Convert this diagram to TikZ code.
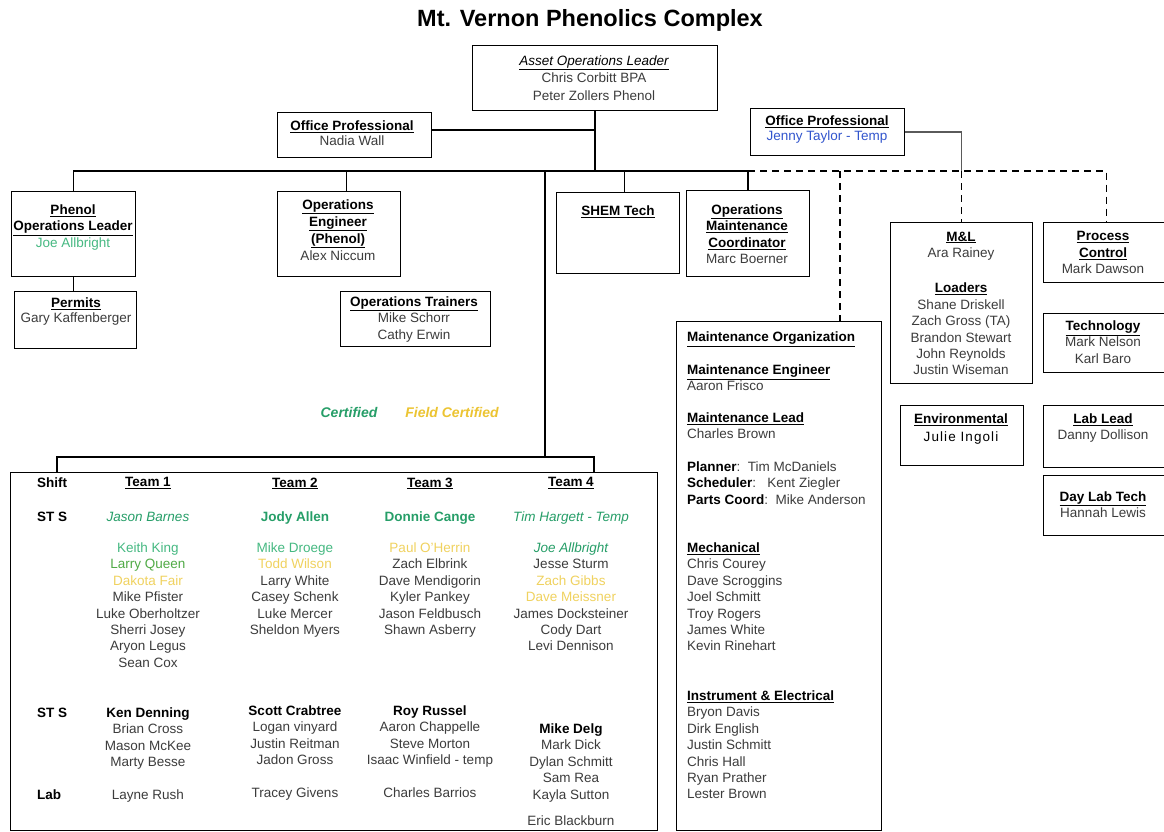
\documentclass[tikz,border=0pt]{standalone}
\usepackage{fontspec}
\setmainfont{Liberation Sans}
\usepackage{tikz}

\definecolor{namegray}{RGB}{60,60,60}
\definecolor{certgreen}{RGB}{38,158,104}
\definecolor{leafgreen}{RGB}{80,170,70}
\definecolor{mintgreen}{RGB}{70,185,130}
\definecolor{fieldyellow}{RGB}{236,196,50}
\definecolor{paleyellow}{RGB}{240,210,95}
\definecolor{tempblue}{RGB}{50,85,205}
\definecolor{linkgray}{RGB}{90,90,90}

\newcommand\nm{\fontsize{13.5}{16.4}\selectfont}
\newcommand\hd[1]{{\bfseries\color{black}\underline{#1}}}

\tikzset{
  orgbox/.style={draw=black, line width=1pt, inner sep=0pt, anchor=north west},
  boxtxt/.style={inner sep=0pt, anchor=north, align=center, font=\nm, text=namegray},
  lefttxt/.style={inner sep=0pt, anchor=north west, align=left, font=\nm, text=namegray},
  link/.style={line width=1.1pt, black},
  dlink/.style={line width=1.1pt, black, dash pattern=on 7pt off 5pt},
  glink/.style={line width=1.1pt, linkgray}
}

\begin{document}
\begin{tikzpicture}[x=1pt, y=-1pt]
	%%%%% START %%%%%
	\useasboundingbox[fill=white] (0,0) rectangle (1164,831);
	
	\node[font=\bfseries\fontsize{23.5}{28}\selectfont, inner sep=0pt] (title) at (590,20) {Mt. Vernon Phenolics Complex};
	
	% top of the chart
	\node[orgbox, minimum width=245, minimum height=65] (asset) at (472,45) {};
	\node[boxtxt] (assettxt) at (594,55.5) {{\itshape\color{black}\underline{Asset Operations Leader}}\\[1pt]Chris Corbitt BPA\\[1pt]Peter Zollers Phenol};
	
	\node[orgbox, minimum width=154, minimum height=45] (nadia) at (277,112) {};
	\node[boxtxt] (nadiatxt) at (352,120.5) {\hd{Office Professional}\\[-1pt]Nadia Wall};
	
	\node[orgbox, minimum width=154, minimum height=47] (jenny) at (750,108) {};
	\node[boxtxt] (jennytxt) at (827,115.5) {\hd{Office Professional}\\[-1pt]{\color{tempblue}Jenny Taylor - Temp}};
	
	% second row
	\node[orgbox, minimum width=124, minimum height=85] (phenol) at (11,191) {};
	\node[boxtxt] (phenoltxt) at (73,204.5) {\hd{Phenol}\\\hd{Operations Leader}\\{\color{mintgreen}Joe Allbright}};
	
	\node[orgbox, minimum width=122, minimum height=57] (permits) at (14,291) {};
	\node[boxtxt] (permitstxt) at (76,297.5) {\hd{Permits}\\[-1pt]Gary Kaffenberger};
	
	\node[orgbox, minimum width=123, minimum height=85] (opseng) at (277,191) {};
	\node[boxtxt] (opsengtxt) at (338,199.5) {\hd{Operations}\\[0.5pt]\hd{Engineer}\\[0.5pt]\hd{(Phenol)}\\[0.5pt]Alex Niccum};
	
	\node[orgbox, minimum width=150, minimum height=55] (trainers) at (340,291) {};
	\node[boxtxt] (trainerstxt) at (414,296.5) {\hd{Operations Trainers}\\Mike Schorr\\Cathy Erwin};
	
	\node[orgbox, minimum width=123, minimum height=81] (shem) at (556,192) {};
	\node[boxtxt] (shemtxt) at (618,205.5) {\hd{SHEM Tech}};
	
	\node[orgbox, minimum width=123, minimum height=86] (omc) at (686,190) {};
	\node[boxtxt] (omctxt) at (747,204.5) {\hd{Operations}\\\hd{Maintenance}\\\hd{Coordinator}\\Marc Boerner};
	
	% maintenance column
	\node[orgbox, minimum width=205, minimum height=509] (maint) at (676,321) {};
	\node[lefttxt] (maintorg) at (687,331.5) {\hd{Maintenance Organization}};
	\node[lefttxt] (mengr) at (687,364.5) {\hd{Maintenance Engineer}\\Aaron Frisco};
	\node[lefttxt] (mlead) at (687,412.5) {\hd{Maintenance Lead}\\Charles Brown};
	\node[lefttxt] (mplan) at (687,461.5) {{\bfseries\color{black}Planner}:\ \ Tim McDaniels\\{\bfseries\color{black}Scheduler}:\ \ \ Kent Ziegler\\{\bfseries\color{black}Parts Coord}:\ \ Mike Anderson};
	\node[lefttxt] (mmech) at (687,542.5) {\hd{Mechanical}\\Chris Courey\\Dave Scroggins\\Joel Schmitt\\Troy Rogers\\James White\\Kevin Rinehart};
	\node[lefttxt] (mie) at (687,690.5) {\hd{Instrument \& Electrical}\\Bryon Davis\\Dirk English\\Justin Schmitt\\Chris Hall\\Ryan Prather\\Lester Brown};
	
	% right hand boxes
	\node[orgbox, minimum width=142, minimum height=161] (ml) at (890,222) {};
	\node[boxtxt] (mltxt) at (961,231.5) {\hd{M\&L}\\Ara Rainey\\[19pt]\hd{Loaders}\\Shane Driskell\\Zach Gross (TA)\\Brandon Stewart\\John Reynolds\\Justin Wiseman};
	
	\node[orgbox, minimum width=126, minimum height=60] (pc) at (1043,222) {};
	\node[boxtxt] (pctxt) at (1103,231.5) {\hd{Process}\\\hd{Control}\\Mark Dawson};
	
	\node[orgbox, minimum width=126, minimum height=59] (tech) at (1043,313) {};
	\node[boxtxt] (techtxt) at (1103,320.5) {\hd{Technology}\\Mark Nelson\\Karl Baro};
	
	\node[orgbox, minimum width=123, minimum height=60] (env) at (900,405) {};
	\node[boxtxt] (envtxt) at (961,413.5) {\hd{Environmental}\\[1.5pt]{\color{black}\addfontfeature{LetterSpace=8}Julie Ingoli}};
	
	\node[orgbox, minimum width=126, minimum height=62] (lablead) at (1043,405) {};
	\node[boxtxt] (lableadtxt) at (1103,413.5) {\hd{Lab Lead}\\Danny Dollison};
	
	\node[orgbox, minimum width=126, minimum height=60] (daylab) at (1043,475) {};
	\node[boxtxt] (daylabtxt) at (1103,491.5) {\hd{Day Lab Tech}\\Hannah Lewis};
	
	% legend
	\node[boxtxt, font=\bfseries\itshape\fontsize{14}{16}\selectfont, text=certgreen] (certified) at (349,407) {Certified};
	\node[boxtxt, font=\bfseries\itshape\fontsize{14}{16}\selectfont, text=fieldyellow] (fieldcert) at (452,407) {Field Certified};
	
	% shift teams
	\node[orgbox, minimum width=647, minimum height=358] (teams) at (10,472) {};
	\node[lefttxt, font=\nm\bfseries, text=black] (shift) at (37,477.5) {Shift};
	\node[lefttxt, font=\nm\bfseries, text=black] (stsa) at (37,511.5) {ST S};
	\node[lefttxt, font=\nm\bfseries, text=black] (stsb) at (37,707.5) {ST S};
	\node[lefttxt, font=\nm\bfseries, text=black] (lab) at (37,789.5) {Lab};
	
	\node[boxtxt] (team1) at (148,477.5) {\hd{Team 1}};
	\node[boxtxt] (team2) at (295,477.5) {\hd{Team 2}};
	\node[boxtxt] (team3) at (430,477.5) {\hd{Team 3}};
	\node[boxtxt] (team4) at (571,477.5) {\hd{Team 4}};
	
	\node[boxtxt, font=\nm\itshape, text=certgreen] (t1sts) at (148,511.5) {Jason Barnes};
	\node[boxtxt, font=\nm\bfseries, text=certgreen] (t2sts) at (295,511.5) {Jody Allen};
	\node[boxtxt, font=\nm\bfseries, text=certgreen] (t3sts) at (430,511.5) {Donnie Cange};
	\node[boxtxt, font=\nm\itshape, text=certgreen] (t4sts) at (571,511.5) {Tim Hargett - Temp};
	
	\node[boxtxt] (t1crew) at (148,542.5) {{\color{mintgreen}Keith King}\\{\color{leafgreen}Larry Queen}\\{\color{paleyellow}Dakota Fair}\\Mike Pfister\\Luke Oberholtzer\\Sherri Josey\\Aryon Legus\\Sean Cox};
	\node[boxtxt] (t2crew) at (295,542.5) {{\color{mintgreen}Mike Droege}\\{\color{paleyellow}Todd Wilson}\\Larry White\\Casey Schenk\\Luke Mercer\\Sheldon Myers};
	\node[boxtxt] (t3crew) at (430,542.5) {{\color{paleyellow}Paul O'Herrin}\\Zach Elbrink\\Dave Mendigorin\\Kyler Pankey\\Jason Feldbusch\\Shawn Asberry};
	\node[boxtxt] (t4crew) at (571,542.5) {{\itshape\color{certgreen}Joe Allbright}\\Jesse Sturm\\{\color{paleyellow}Zach Gibbs}\\{\color{paleyellow}Dave Meissner}\\James Docksteiner\\Cody Dart\\Levi Dennison};
	
	\node[boxtxt] (t1back) at (148,707.5) {{\bfseries\color{black}Ken Denning}\\Brian Cross\\Mason McKee\\Marty Besse};
	\node[boxtxt] (t2back) at (295,705.5) {{\bfseries\color{black}Scott Crabtree}\\Logan vinyard\\Justin Reitman\\Jadon Gross};
	\node[boxtxt] (t3back) at (430,705.5) {{\bfseries\color{black}Roy Russel}\\Aaron Chappelle\\Steve Morton\\Isaac Winfield - temp};
	\node[boxtxt] (t4back) at (571,723.5) {{\bfseries\color{black}Mike Delg}\\Mark Dick\\Dylan Schmitt\\Sam Rea\\Kayla Sutton\\[10pt]Eric Blackburn};
	
	\node[boxtxt] (t1lab) at (148,789.5) {Layne Rush};
	\node[boxtxt] (t2lab) at (295,787.5) {Tracey Givens};
	\node[boxtxt] (t3lab) at (430,787.5) {Charles Barrios};
	
	% connectors
	\coordinate (bar) at (594,171);
	\coordinate (mtap) at (840,171);
	\coordinate (fork) at (545,457);
	\coordinate (brL) at (57,457);
	\coordinate (brR) at (594,457);
	
	\draw[link] (asset.south) -- (asset.south |- bar);
	\draw[link] ([yshift=5pt]nadia.east) -- ([yshift=5pt]nadia.east -| asset.south);
	\draw[link] (phenol.north) |- (omc.north |- bar) -- (omc.north);
	\draw[link] ([xshift=7.5pt]opseng.north) -- ([xshift=7.5pt]opseng.north |- bar);
	\draw[link] ([xshift=6.5pt]shem.north) -- ([xshift=6.5pt]shem.north |- bar);
	\draw[link] (phenol.south) -- (phenol.south |- permits.north);
	\draw[link] (fork |- bar) -- (fork);
	\draw[link] (teams.north -| brL) -- (brL) -- (brR) -- (teams.north -| brR);
	
	\draw[dlink] (omc.north |- bar) -- (pc.north |- bar) -- (pc.north);
	\draw[dlink] (mtap) -- (mtap |- maint.north);
	\draw[dlink] (ml.north |- bar) -- (ml.north);
	\draw[glink] (jenny.east) -| (ml.north |- bar);
	%%%%% END %%%%%
\end{tikzpicture}
\end{document}
